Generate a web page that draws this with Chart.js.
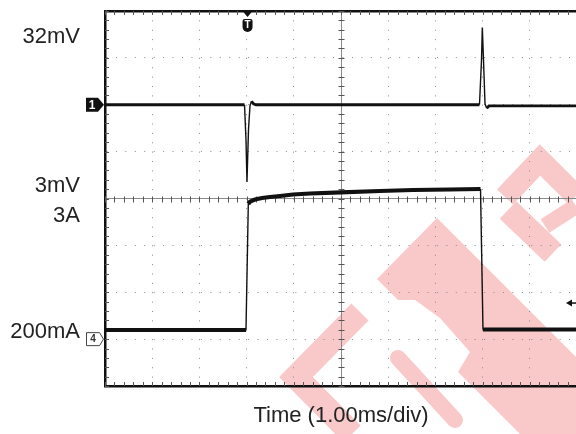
<!DOCTYPE html>
<html><head><meta charset="utf-8">
<script src="https://cdn.jsdelivr.net/npm/chart.js@4/dist/chart.umd.min.js"></script>
<style>html,body{margin:0;padding:0;overflow:hidden;background:#fff}#wrap{width:578px;height:434px;position:relative}</style>
</head><body><div id="wrap"><canvas id="c"></canvas></div>
<script>
// ---- data (time in ms, 1.00 ms/div) ----
const ch1Time = [0, 2.956, 2.987, 3.008, 3.040, 3.072, 3.104, 3.146, 3.199, 7.934, 7.977, 7.994, 8.019, 8.051, 8.087, 8.136, 10];
const ch1MilliVolts = [0, 0, -14.9, -32.9, -10.7, -0.4, 1.5, 0.4, 0, 0, 19.2, 32.9, 19.2, 0.4, -1.5, -0.5, -0.5];
const ch4Time = [0, 2.987, 3.036, 3.072, 3.178, 3.326, 3.496, 3.708, 3.983, 4.343, 5.000, 5.826, 6.525, 7.309, 7.956, 8.008, 10];
const ch4Amps = [0.195, 0.195, 2.883, 2.932, 2.979, 3.011, 3.032, 3.053, 3.085, 3.107, 3.132, 3.160, 3.181, 3.192, 3.203, 0.205, 0.205];
const levelLabels = ['32mV', '3mV', '3A', '200mA'];
const axisTitle = 'Time (1.00ms/div)';
const triggerTime = 3.02;
const triggerLevelAmps = 0.77;

const FONT = "'Liberation Sans', Arial, Helvetica, sans-serif";

function pts(xs, ys) { return xs.map((t, i) => ({x: t, y: ys[i]})); }
function segWidth(base) {
  return ctx => {
    const dx = Math.abs(ctx.p1.x - ctx.p0.x), dy = Math.abs(ctx.p1.y - ctx.p0.y);
    return dy > 2 * dx ? 1.4 : base;
  };
}

// background watermark (decoration only, in canvas pixels)
function drawWatermark(ctx) {
  ctx.save();
  ctx.fillStyle = '#f9c9c9';
  ctx.strokeStyle = '#f9c9c9';
  ctx.beginPath();
  [[377,279],[437,218],[576,357],[576,434],[520,434],[458,372],[470,352],[440,318],[415,300],[398,300]]
    .forEach((p, i) => i ? ctx.lineTo(p[0], p[1]) : ctx.moveTo(p[0], p[1]));
  ctx.closePath(); ctx.fill();
  const band = (pp, w, cap) => {
    ctx.lineWidth = w; ctx.lineCap = cap || 'butt'; ctx.lineJoin = 'miter';
    ctx.beginPath(); pp.forEach((p, i) => i ? ctx.lineTo(p[0], p[1]) : ctx.moveTo(p[0], p[1])); ctx.stroke();
  };
  band([[398,358],[455,420]], 16, 'round');
  band([[360,312],[296,377],[352,434]], 24);
  band([[505,197],[540,160],[576,196]], 22);
  band([[508,210],[553,253]], 24);
  band([[545,226],[576,206]], 16);
  ctx.restore();
}

const decor = {
  id: 'decor',
  beforeDraw(chart) { drawWatermark(chart.ctx); },
  beforeDatasetsDraw(chart) {
    const {ctx, chartArea: a, scales} = chart;
    const x = scales.x, yA = scales.y;
    const cx = Math.round(x.getPixelForValue(5)) + 0.5;
    const cy = Math.round(yA.getPixelForValue(3)) + 0.5;
    ctx.save();
    ctx.strokeStyle = '#555'; ctx.lineWidth = 1;
    ctx.beginPath();
    for (let i = 0; i <= 50; i++) {
      const px = Math.round(x.getPixelForValue(i * 0.2)) + 0.5;
      ctx.moveTo(px, cy - 3); ctx.lineTo(px, cy + 3);
      ctx.moveTo(px, a.top); ctx.lineTo(px, a.top + 4);
      ctx.moveTo(px, a.bottom); ctx.lineTo(px, a.bottom - 4);
    }
    for (let i = 0; i <= 40; i++) {
      const py = Math.round(yA.getPixelForValue(-1 + i * 0.2)) + 0.5;
      ctx.moveTo(cx - 3, py); ctx.lineTo(cx + 3, py);
      ctx.moveTo(a.left, py); ctx.lineTo(a.left + 4, py);
    }
    ctx.stroke();
    ctx.restore();
  },
  afterDraw(chart) {
    const {ctx, chartArea: a, scales} = chart;
    const x = scales.x, yA = scales.y, yV = scales.y1;
    ctx.save();
    // level labels
    ctx.fillStyle = '#222';
    ctx.font = '22px ' + FONT;
    ctx.textAlign = 'right'; ctx.textBaseline = 'alphabetic';
    const ys = [yV.getPixelForValue(29.7), yV.getPixelForValue(-33.7), yA.getPixelForValue(2.67), yA.getPixelForValue(0.2)];
    levelLabels.forEach((s, i) => ctx.fillText(s, 80, ys[i] + 7.9));

    // channel 1 marker
    const y1 = yV.getPixelForValue(0);
    ctx.fillStyle = '#111';
    ctx.beginPath();
    ctx.moveTo(86, y1 - 7); ctx.lineTo(98, y1 - 7); ctx.lineTo(104, y1); ctx.lineTo(98, y1 + 7); ctx.lineTo(86, y1 + 7);
    ctx.closePath(); ctx.fill();
    ctx.fillStyle = '#fff'; ctx.font = 'bold 12px ' + FONT; ctx.textAlign = 'center'; ctx.textBaseline = 'middle';
    ctx.fillText('1', 92, y1 + 0.5);

    // channel 4 marker
    const y4 = yA.getPixelForValue(0);
    ctx.fillStyle = '#fff'; ctx.strokeStyle = '#444'; ctx.lineWidth = 1;
    ctx.beginPath();
    ctx.moveTo(86.5, y4 - 6.5); ctx.lineTo(99.5, y4 - 6.5); ctx.lineTo(103.5, y4); ctx.lineTo(99.5, y4 + 6.5); ctx.lineTo(86.5, y4 + 6.5);
    ctx.closePath(); ctx.fill(); ctx.stroke();
    ctx.fillStyle = '#333'; ctx.font = 'bold 10px ' + FONT;
    ctx.fillText('4', 93, y4 + 0.5);

    // trigger marker
    const tx = x.getPixelForValue(triggerTime);
    ctx.fillStyle = '#111';
    ctx.beginPath();
    ctx.moveTo(tx - 5, a.top); ctx.lineTo(tx + 5, a.top); ctx.lineTo(tx, a.top + 6); ctx.closePath(); ctx.fill();
    ctx.beginPath();
    ctx.roundRect(tx - 5, a.top + 8, 10, 13, [2, 2, 5, 5]);
    ctx.fill();
    ctx.fillStyle = '#fff'; ctx.font = 'bold 10px ' + FONT;
    ctx.fillText('T', tx, a.top + 14.5);

    // trigger level arrow
    const ty = yA.getPixelForValue(triggerLevelAmps);
    ctx.fillStyle = '#111';
    ctx.beginPath();
    ctx.moveTo(566, ty); ctx.lineTo(572, ty - 3.5); ctx.lineTo(572, ty + 3.5); ctx.closePath(); ctx.fill();
    ctx.fillRect(571, ty - 0.75, 6, 1.5);
    ctx.restore();
  }
};

const dotX = [1, 8.375];
const dotY = [1, 8.44];

new Chart(document.getElementById('c'), {
  type: 'line',
  data: {
    datasets: [
      { label: 'CH1', data: pts(ch1Time, ch1MilliVolts), yAxisID: 'y1', borderColor: '#111', borderWidth: 2.8,
        pointRadius: 0, tension: 0, fill: false, segment: { borderWidth: segWidth(2.8) } },
      { label: 'CH4', data: pts(ch4Time, ch4Amps), yAxisID: 'y', borderColor: '#111', borderWidth: 4.2,
        pointRadius: 0, tension: 0, fill: false, segment: { borderWidth: segWidth(4.2) } }
    ]
  },
  options: {
    responsive: true, maintainAspectRatio: false, animation: false,
    layout: { padding: { left: 105, top: 11, right: 1, bottom: 0 } },
    plugins: { legend: { display: false }, tooltip: { enabled: false } },
    scales: {
      x: {
        type: 'linear', min: 0, max: 10,
        ticks: { display: false, stepSize: 1 },
        grid: {
          drawTicks: false,
          color: c => (c.tick && (c.tick.value === 0 || c.tick.value === 10)) ? 'rgba(0,0,0,0)' : '#8a8a8a',
          lineWidth: 1
        },
        border: { display: true, color: '#111', width: 2.5, dash: c => (c.tick && c.tick.value === 5) ? [] : dotX },
        title: { display: true, text: axisTitle, color: '#222', font: { family: FONT, size: 22, lineHeight: 1.2 }, padding: { top: 17.2, bottom: 4.4 } }
      },
      y: {
        type: 'linear', min: -1, max: 7,
        ticks: { display: false, stepSize: 1 },
        grid: {
          drawTicks: false,
          color: c => {
            const v = c.tick && c.tick.value;
            if (v === 7) return '#111';
            if (v === -1) return 'rgba(0,0,0,0)';
            return '#8a8a8a';
          },
          lineWidth: c => (c.tick && c.tick.value === 7) ? 2.5 : 1
        },
        border: { display: true, color: '#111', width: 2.5, dash: c => (c.tick && (c.tick.value === 3 || c.tick.value === 7)) ? [] : dotY }
      },
      y1: { type: 'linear', min: -120, max: 40, display: false }
    }
  },
  plugins: [decor]
});
</script></body></html>
